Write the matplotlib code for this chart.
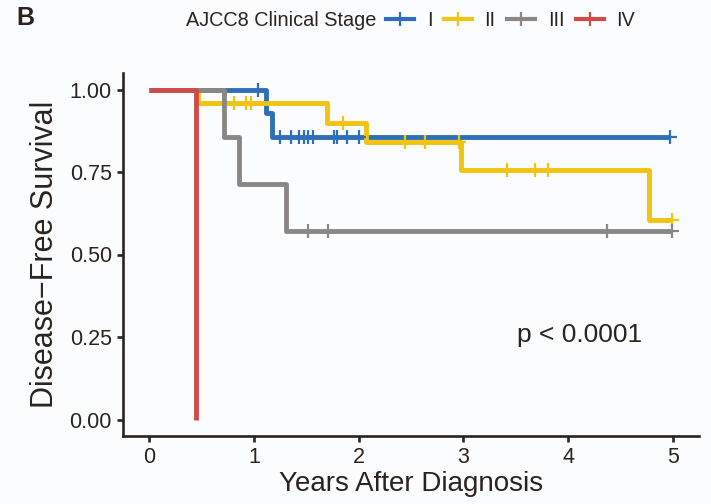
import matplotlib
matplotlib.use("Agg")
import matplotlib.pyplot as plt
from matplotlib.lines import Line2D
import numpy as np

plt.rcParams['font.family'] = ['Liberation Sans', 'DejaVu Sans']

# ---- data ----
stages = ["I", "II", "III", "IV"]
colors = ["#2f6fb7", "#f1c40f", "#8b8785", "#d04b47"]

times_I = [0, 1.12, 1.17]
surv_I = [1.0, 0.929, 0.857]
end_I = 4.97
cens_I = [1.035, 1.25, 1.35, 1.43, 1.48, 1.52, 1.56, 1.76, 1.79, 1.89, 2.00, 4.97]

times_II = [0, 0.47, 1.70, 2.07, 2.98, 4.77]
surv_II = [1.0, 0.958, 0.899, 0.842, 0.757, 0.605]
end_II = 4.99
cens_II = [0.81, 0.92, 0.97, 1.85, 2.44, 2.63, 2.96, 3.42, 3.68, 3.81, 4.99]

times_III = [0, 0.71, 0.86, 1.31]
surv_III = [1.0, 0.857, 0.714, 0.571]
end_III = 4.99
cens_III = [1.52, 1.71, 4.37, 4.99]

times_IV = [0, 0.45]
surv_IV = [1.0, 0.0]
end_IV = 0.45
cens_IV = []

x_ticks = [0, 1, 2, 3, 4, 5]
y_ticks = [0.0, 0.25, 0.50, 0.75, 1.00]
y_ticklabels = ["0.00", "0.25", "0.50", "0.75", "1.00"]

series = [
    (times_I, surv_I, end_I, cens_I),
    (times_II, surv_II, end_II, cens_II),
    (times_III, surv_III, end_III, cens_III),
    (times_IV, surv_IV, end_IV, cens_IV),
]

txt = "#2a241e"
bg = "#fbfcfe"

fig = plt.figure(figsize=(7.11, 5.04), dpi=100, facecolor=bg)
ax = fig.add_axes([123 / 711, 1 - 436 / 504, (699 - 123) / 711, (436 - 73) / 504])
ax.set_facecolor(bg)

def surv_at(t, times, surv):
    idx = np.searchsorted(np.asarray(times), t, side="right") - 1
    return surv[max(idx, 0)]

for (times, surv, end, cens), col in zip(series, colors):
    xs = list(times) + [end]
    ys = list(surv) + [surv[-1]]
    ax.step(xs, ys, where="post", color=col, lw=3.5, solid_joinstyle="round",
            solid_capstyle="butt", zorder=2)
    if cens:
        cy = [surv_at(t, times, surv) for t in cens]
        ax.plot(cens, cy, linestyle="none", marker="+", markersize=9.5,
                markeredgewidth=1.6, color=col, zorder=3)

ax.set_xlim(-0.25, 5.25)
ax.set_ylim(-0.05, 1.05)
ax.set_xticks(x_ticks)
ax.set_yticks(y_ticks)
ax.set_yticklabels(y_ticklabels)
for s in ["top", "right"]:
    ax.spines[s].set_visible(False)
for s in ["left", "bottom"]:
    ax.spines[s].set_linewidth(1.9)
    ax.spines[s].set_color(txt)
ax.tick_params(axis="both", length=4, width=1.9, color=txt, labelcolor=txt,
               labelsize=15.5)
ax.tick_params(axis="x", pad=4)
ax.tick_params(axis="y", pad=4)

ax.set_xlabel("Years After Diagnosis", fontsize=20, color=txt, labelpad=2)
ax.set_ylabel("Disease\u2212Free Survival", fontsize=22, color=txt, labelpad=7)

ax.text(4.11, 0.255, "p < 0.0001", fontsize=19, color=txt, ha="center", va="center")

# legend on top
fig.text(16 / 711, 1 - 18 / 504, "B", fontsize=18, fontweight="bold", color=txt,
         ha="left", va="center")
fig.text(186 / 711, 1 - 20 / 504, "AJCC8 Clinical Stage", fontsize=14.3, color=txt,
         ha="left", va="center")
handles = [Line2D([0], [0], color=c, lw=3.0, marker="+", markersize=9.5,
                  markeredgewidth=1.6) for c in colors]
fig.legend(handles, stages, loc="center left", bbox_to_anchor=(386 / 711, 1 - 20 / 504),
           ncol=4, frameon=False, fontsize=14.3, handlelength=1.4,
           handletextpad=0.65, columnspacing=0.58, borderaxespad=0, borderpad=0,
           labelcolor=txt)

fig.savefig("out.png", dpi=100, facecolor=bg)
